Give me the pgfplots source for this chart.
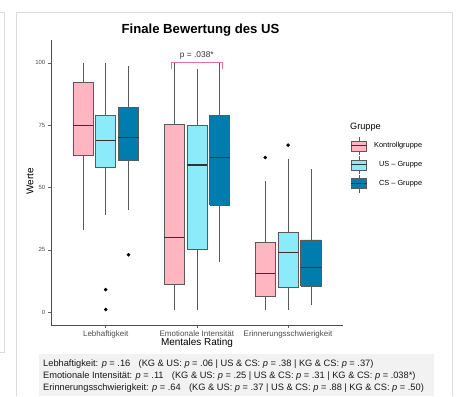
\documentclass[border=0pt]{standalone}
\usepackage{pgfplots}
\pgfplotsset{compat=1.18}
\usepackage{fontspec}
\setmainfont{Liberation Sans}
\definecolor{kg}{HTML}{FFB6C1}
\definecolor{us}{HTML}{8CEBFA}
\definecolor{cs}{HTML}{007DAD}
\definecolor{edge}{HTML}{5A5A5A}
\definecolor{framec}{HTML}{DCDCDC}
\definecolor{boxgray}{HTML}{F2F2F2}
\definecolor{ppink}{HTML}{E36FA6}
\definecolor{ticktext}{HTML}{4D4D4D}
% box: #1 left, #2 centre, #3 right, #4 lower whisker, #5 Q1, #6 median, #7 Q3, #8 upper whisker, #9 fill
\newcommand{\bx}[9]{%
\addplot[edge, line width=0.6bp] coordinates {(#2,#4) (#2,#5)};
\addplot[edge, line width=0.6bp] coordinates {(#2,#7) (#2,#8)};
\addplot[fill=#9, draw=edge, line width=0.6bp] coordinates {(#1,#5) (#3,#5) (#3,#7) (#1,#7) (#1,#5)};
\addplot[black!80, line width=1.2bp] coordinates {(#1,#6) (#3,#6)};
}
\begin{document}
\begin{tikzpicture}
\begin{scope}[x=1bp,y=1bp]
\path[use as bounding box] (0,0) rectangle (457,396);
\fill[white] (0,0) rectangle (457,396);
\draw[framec, line width=0.8bp] (0,384) -- (4,384) -- (4,44) -- (0,44);
\draw[framec, line width=0.8bp] (16,0) -- (16,384) -- (452,384) -- (452,0);
\fill[boxgray] (39,0) rectangle (434,42);
\end{scope}
\begin{axis}[
  at={(51bp,71bp)}, anchor=south west, scale only axis,
  width=291.7bp, height=285bp,
  xmin=0.4, xmax=3.6, ymin=-5.2, ymax=109.2,
  axis x line*=bottom, axis y line*=left,
  axis line style={draw=black!70, line width=0.6bp},
  xtick={1,2,3},
  xticklabels={Lebhaftigkeit, Emotionale Intensität, Erinnerungsschwierigkeit},
  ytick={0,25,50,75,100},
  tick align=outside, major tick length=2.7bp,
  tick style={draw=black!60, line width=0.5bp},
  xticklabel shift=1.6bp, yticklabel shift=1.8bp,
  xticklabel style={font=\fontsize{8}{9}\selectfont, text=ticktext, inner sep=1bp},
  yticklabel style={font=\fontsize{6}{7}\selectfont, text=ticktext, inner sep=1bp},
  /pgf/number format/assume math mode=true,
  clip=false,
]
% Lebhaftigkeit
\bx{0.64}{0.75}{0.86}{33}{63}{75}{92.3}{100}{kg}
\bx{0.89}{1.00}{1.11}{39}{58}{69}{79}{100}{us}
\bx{1.14}{1.25}{1.36}{41}{61}{70}{82}{98.6}{cs}
% Emotionale Intensitaet
\bx{1.64}{1.75}{1.86}{1}{11}{30}{75.2}{100}{kg}
\bx{1.89}{2.00}{2.11}{1}{25}{59}{75}{97.6}{us}
\bx{2.14}{2.25}{2.36}{20}{43}{62}{79}{100}{cs}
% Erinnerungsschwierigkeit
\bx{2.64}{2.75}{2.86}{1}{6.5}{15.5}{28}{52.5}{kg}
\bx{2.89}{3.00}{3.11}{1}{10}{24}{32}{61.5}{us}
\bx{3.14}{3.25}{3.36}{3}{10.5}{18}{29}{57.5}{cs}
% outliers
\addplot[only marks, mark=*, mark size=1.6bp, black] coordinates {(1.0,9) (1.0,1) (1.25,23) (2.75,62) (3.0,67)};
% significance bracket
\draw[ppink, line width=0.7bp] (axis cs:1.724,97.6) |- (axis cs:2.276,100.4) -- (axis cs:2.276,97.6);
\node[anchor=base, yshift=4bp, text=black!80, font=\fontsize{8.4}{10}\selectfont] at (axis cs:2,100.4) {p = .038*};
\end{axis}
\begin{scope}[x=1bp,y=1bp]
% titles and labels
\node[anchor=base, font=\bfseries\fontsize{13.2}{15}\selectfont] at (200.5,362.7) {Finale Bewertung des US};
\node[rotate=90, anchor=base, font=\fontsize{10}{12}\selectfont] at (33.3,214.5) {Werte};
\node[anchor=base, font=\fontsize{10}{12}\selectfont] at (197,50.3) {Mentales Rating};
% legend
\node[anchor=west, inner sep=0pt, font=\fontsize{9.2}{11}\selectfont] at (350,269) {Gruppe};
\foreach \yc/\col/\lab in {250.2/kg/Kontrollgruppe, 231.2/us/US – Gruppe, 212.3/cs/CS – Gruppe}{
  \draw[edge, line width=0.6bp] (358.8,\yc+5) -- (358.8,\yc+9);
  \draw[edge, line width=0.6bp] (358.8,\yc-5) -- (358.8,\yc-9);
  \draw[edge, fill=\col, line width=0.6bp] (351,\yc-5) rectangle (366.7,\yc+5);
  \draw[black!80, line width=1bp] (351,\yc) -- (366.7,\yc);
  \node[anchor=east, inner sep=0pt, font=\fontsize{7.4}{9}\selectfont] at (422.3,\yc) {\lab};
}
% bottom p-value box
\begin{scope}[every node/.style={anchor=base west, inner sep=0pt, text=black!90, font=\fontsize{9.3}{11}\selectfont}]
\node at (43,29.3) {Lebhaftigkeit: \textit{p} = .16\hspace{0.9em}(KG \& US: \textit{p} = .06 | US \& CS: \textit{p} = .38 | KG \& CS: \textit{p} = .37)};
\node at (43,17.7) {Emotionale Intensität: \textit{p} = .11\hspace{0.9em}(KG \& US: \textit{p} = .25 | US \& CS: \textit{p} = .31 | KG \& CS: \textit{p} = .038*)};
\node at (43,6) {Erinnerungsschwierigkeit: \textit{p} = .64\hspace{0.9em}(KG \& US: \textit{p} = .37 | US \& CS: \textit{p} = .88 | KG \& CS: \textit{p} = .50)};
\end{scope}
\end{scope}
\end{tikzpicture}
\end{document}
